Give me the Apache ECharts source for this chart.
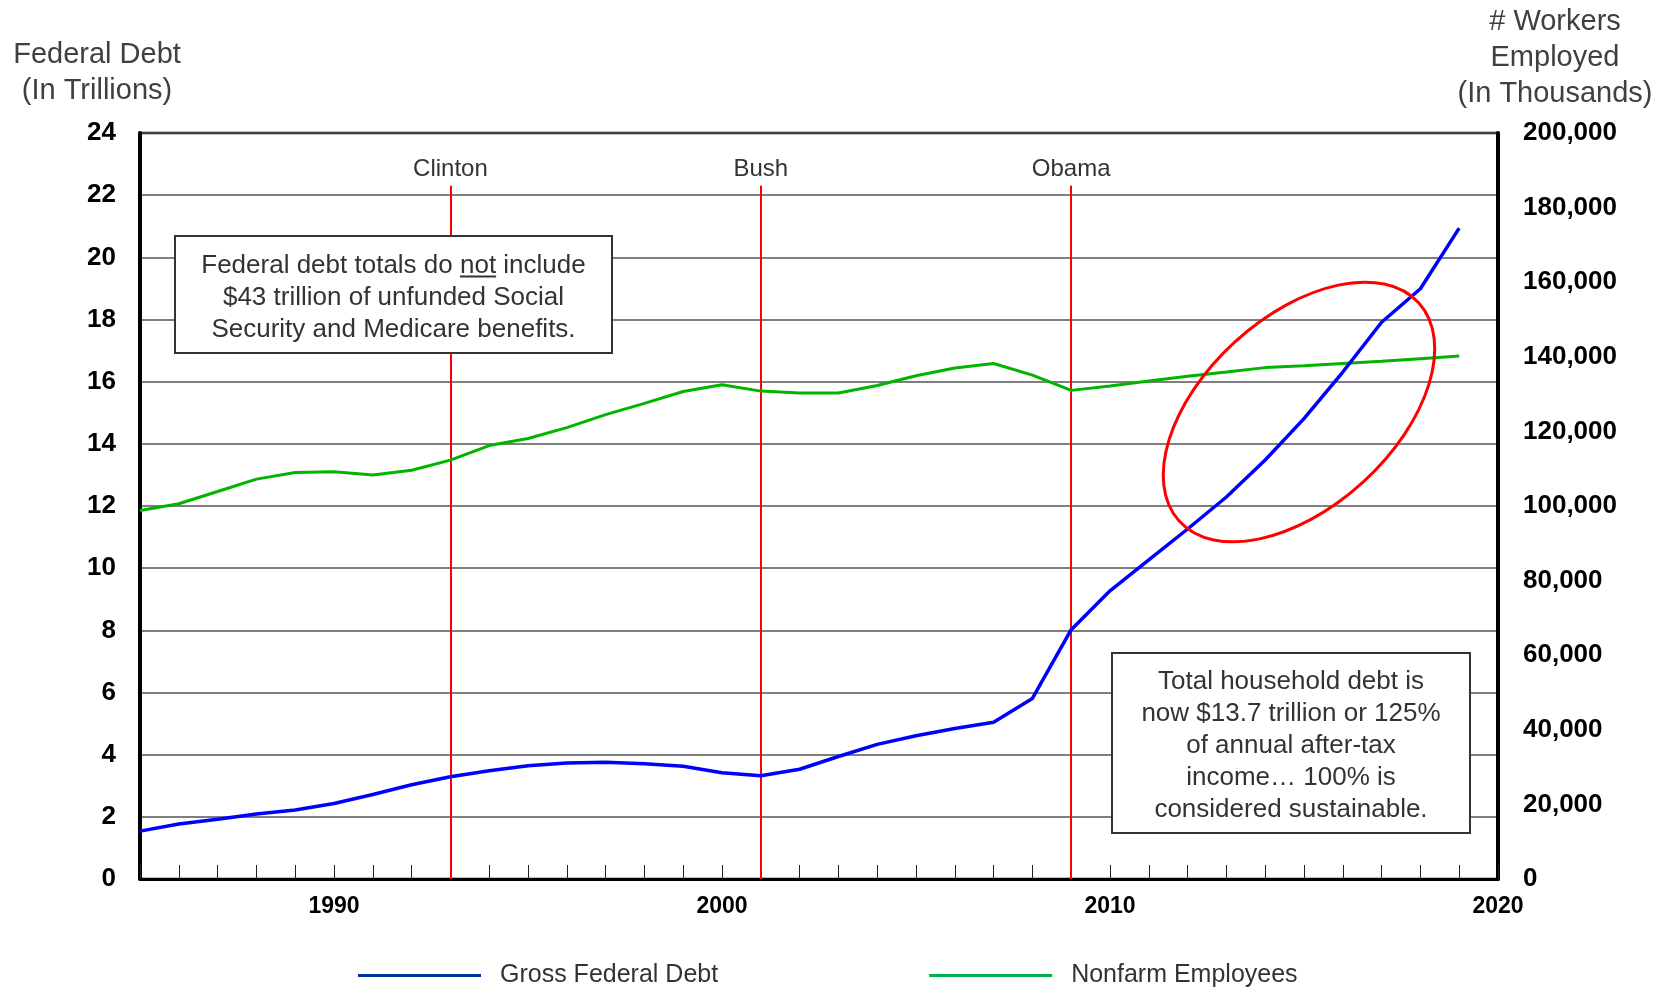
<!DOCTYPE html>
<html>
<head>
<meta charset="utf-8">
<script src="https://cdn.jsdelivr.net/npm/echarts@6/dist/echarts.min.js"></script>
<style>
  html, body { margin: 0; padding: 0; background: #fff; }
  #chart { width: 1673px; height: 987px; }
</style>
</head>
<body>
<div id="chart"></div>
<script>
// Fiscal years plotted
const years = [1985, 1986, 1987, 1988, 1989, 1990, 1991, 1992, 1993, 1994,
               1995, 1996, 1997, 1998, 1999, 2000, 2001, 2002, 2003, 2004,
               2005, 2006, 2007, 2008, 2009, 2010, 2011, 2012, 2013, 2014,
               2015, 2016, 2017, 2018, 2019];

// Gross federal debt, trillions of dollars
const grossFederalDebt = [1.54, 1.77, 1.92, 2.09, 2.22, 2.43, 2.72, 3.03, 3.29, 3.48,
                          3.64, 3.73, 3.76, 3.71, 3.63, 3.42, 3.32, 3.53, 3.94, 4.33,
                          4.61, 4.84, 5.04, 5.81, 8.02, 9.27, 10.27, 11.26, 12.29, 13.48,
                          14.81, 16.31, 17.91, 18.99, 20.94];

// Nonfarm employees, thousands of workers
const nonfarmEmployees = [98800, 100600, 103900, 107200, 109000, 109200, 108300, 109600, 112300, 116200,
                          118100, 121000, 124500, 127500, 130700, 132500, 130800, 130300, 130300, 132300,
                          134900, 137000, 138200, 135100, 131000, 132200, 133500, 134800, 135900, 137100,
                          137600, 138200, 138800, 139500, 140200];

// Presidential terms marked with vertical lines
const presidents = ['Clinton', 'Bush', 'Obama'];
const termStartYears = [1993, 2001, 2009];

// Labelled years on the time axis
const xTickLabels = [1990, 2000, 2010, 2020];

const seriesNames = ['Gross Federal Debt', 'Nonfarm Employees'];

const FONT = '"Liberation Sans", Arial, Helvetica, sans-serif';

const chart = echarts.init(document.getElementById('chart'), null, { renderer: 'canvas' });

const debtPoints = years.map((y, i) => [y, grossFederalDebt[i]]);
const jobPoints = years.map((y, i) => [y, nonfarmEmployees[i]]);

const termLines = termStartYears.map((y, i) => [
  { coord: [y, 0], label: { formatter: presidents[i] } },
  { coord: [y, 22.3] }
]);

// Width helper so the underline sits exactly under "not"
const measureCtx = document.createElement('canvas').getContext('2d');
function textWidth(str, size) {
  measureCtx.font = size + 'px ' + FONT;
  return measureCtx.measureText(str).width;
}

const note1 = {
  x: 175, y: 236, w: 437, h: 117,
  lines: ['Federal debt totals do not include', '$43 trillion of unfunded Social', 'Security and Medicare benefits.']
};
const note2 = {
  x: 1112, y: 653, w: 358, h: 180,
  lines: ['Total household debt is', 'now $13.7 trillion or 125%', 'of annual after-tax', 'income\u2026 100% is', 'considered sustainable.']
};
const NOTE_FONT = 26, NOTE_LH = 32, NOTE_SHIFT = 3;

function noteGraphics(n) {
  const cx = n.x + n.w / 2;
  const top = n.y + n.h / 2 - (n.lines.length * NOTE_LH) / 2 + NOTE_SHIFT;
  return [
    {
      type: 'rect', z: 50,
      shape: { x: n.x, y: n.y, width: n.w, height: n.h },
      style: { fill: '#fff', stroke: '#333', lineWidth: 2 }
    },
    {
      type: 'text', z: 51, x: cx, y: top,
      style: {
        text: n.lines.join('\n'), fill: '#333', font: NOTE_FONT + 'px ' + FONT,
        align: 'center', verticalAlign: 'top', lineHeight: NOTE_LH
      }
    }
  ];
}

// underline for "not" in the first note
const l1 = note1.lines[0];
const l1w = textWidth(l1, NOTE_FONT);
const preW = textWidth('Federal debt totals do ', NOTE_FONT);
const notW = textWidth('not', NOTE_FONT);
const l1Left = note1.x + note1.w / 2 - l1w / 2;
const l1Top = note1.y + note1.h / 2 - (note1.lines.length * NOTE_LH) / 2 + NOTE_SHIFT;
const underlineY = l1Top + NOTE_LH / 2 + 11;

const graphics = [
  ...noteGraphics(note1),
  {
    type: 'line', z: 52,
    shape: { x1: l1Left + preW, y1: underlineY, x2: l1Left + preW + notW, y2: underlineY },
    style: { stroke: '#333', lineWidth: 1.8 }
  },
  ...noteGraphics(note2),
  // axis titles
  {
    type: 'text', x: 97, y: 37,
    style: { text: 'Federal Debt\n(In Trillions)', font: '29px ' + FONT, fill: '#404040',
             align: 'center', verticalAlign: 'top', lineHeight: 36 }
  },
  {
    type: 'text', x: 1555, y: 4,
    style: { text: '# Workers\nEmployed\n(In Thousands)', font: '29px ' + FONT, fill: '#404040',
             align: 'center', verticalAlign: 'top', lineHeight: 36 }
  },
  // highlight around the recent debt surge
  {
    type: 'ellipse', z: 40, x: 1299, y: 412, rotation: 42.4 * Math.PI / 180,
    shape: { cx: 0, cy: 0, rx: 162, ry: 95 },
    style: { fill: null, stroke: '#ff0000', lineWidth: 3 }
  }
];

const option = {
  animation: false,
  backgroundColor: '#fff',
  textStyle: { fontFamily: FONT },
  grid: {
    left: 140, right: 175, top: 133, height: 746,
    show: true, borderColor: '#000', borderWidth: 2.5, backgroundColor: 'transparent'
  },
  legend: {
    left: 353, top: 958,
    icon: 'rect', itemWidth: 123, itemHeight: 3, itemGap: 211,
    textStyle: { fontSize: 25, color: '#333', fontFamily: FONT, padding: [0, 0, 0, 14] },
    data: [
      { name: seriesNames[0], itemStyle: { color: '#0030a0' } },
      { name: seriesNames[1], itemStyle: { color: '#00b050' } }
    ]
  },
  xAxis: {
    type: 'value', min: 1985, max: 2020, interval: 1,
    axisLine: { show: true, lineStyle: { color: '#000', width: 3 } },
    axisTick: { show: true, inside: true, length: 14, lineStyle: { color: '#222', width: 1 } },
    splitLine: { show: false },
    axisLabel: {
      margin: 16, fontSize: 23, fontWeight: 'bold', color: '#000', fontFamily: FONT,
      formatter: v => (xTickLabels.indexOf(v) >= 0 ? String(v) : '')
    }
  },
  yAxis: [
    {
      type: 'value', min: 0, max: 24, interval: 2, position: 'left',
      axisLine: { show: true, lineStyle: { color: '#000', width: 4 } },
      axisTick: { show: false },
      splitLine: { show: true, lineStyle: { color: '#555', width: 1.5 } },
      axisLabel: { margin: 24, fontSize: 26, fontWeight: 'bold', color: '#000', fontFamily: FONT }
    },
    {
      type: 'value', min: 0, max: 200000, interval: 20000, position: 'right',
      axisLine: { show: true, lineStyle: { color: '#000', width: 4 } },
      axisTick: { show: false },
      splitLine: { show: false },
      axisLabel: {
        margin: 25, fontSize: 26, fontWeight: 'bold', color: '#000', fontFamily: FONT,
        formatter: v => v.toLocaleString('en-US')
      }
    }
  ],
  series: [
    {
      name: seriesNames[0], type: 'line', yAxisIndex: 0, data: debtPoints,
      showSymbol: false, symbol: 'none', z: 5,
      lineStyle: { color: '#0000ff', width: 3.5 }, itemStyle: { color: '#0000ff' },
      markLine: {
        silent: true, symbol: 'none', z: 2,
        lineStyle: { color: '#ff0000', width: 2, type: 'solid' },
        label: { show: true, position: 'end', distance: 4, color: '#333', fontSize: 24, fontFamily: FONT },
        data: termLines
      }
    },
    {
      name: seriesNames[1], type: 'line', yAxisIndex: 1, data: jobPoints,
      showSymbol: false, symbol: 'none', z: 4,
      lineStyle: { color: '#00b400', width: 3 }, itemStyle: { color: '#00b400' }
    }
  ],
  graphic: graphics
};

chart.setOption(option);
</script>
</body>
</html>
